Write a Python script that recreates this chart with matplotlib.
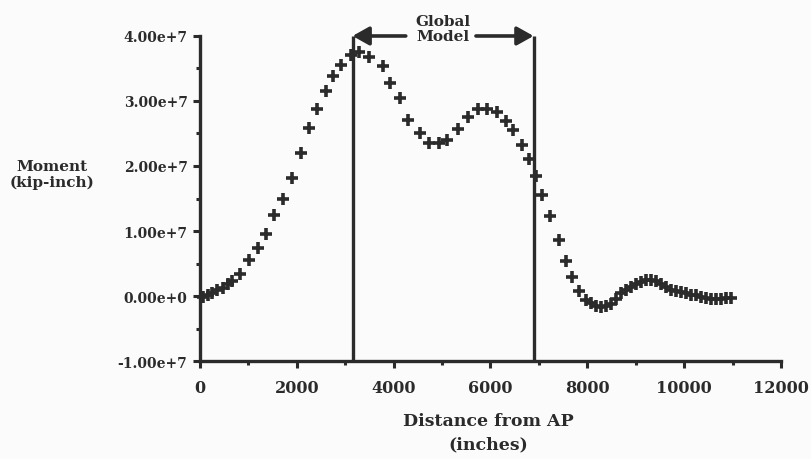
import matplotlib
matplotlib.use("Agg")
import matplotlib.pyplot as plt
from matplotlib.ticker import MultipleLocator, FuncFormatter
from matplotlib.patches import FancyArrowPatch

# Bending moment along the hull, distance measured from the aft perpendicular
distance_in = [70, 163, 257, 361, 466, 570, 664, 822, 1020, 1205, 1361, 1529,
               1707, 1902, 2086, 2248, 2415, 2595, 2740, 2915, 3126, 3292, 3490,
               3775, 3918, 4124, 4300, 4535, 4737, 4944, 5110, 5327, 5526, 5742,
               5938, 6126, 6314, 6455, 6650, 6793, 6939, 7065, 7221, 7410, 7552,
               7689, 7833, 7967, 8069, 8171, 8273, 8377, 8481, 8586, 8692, 8797,
               8901, 9006, 9110, 9214, 9317, 9420, 9521, 9623, 9725, 9827, 9930,
               10033, 10135, 10238, 10341, 10443, 10546, 10649, 10753, 10856, 10959]
moment_e7 = [-0.01, 0.02, 0.05, 0.09, 0.13, 0.18, 0.23, 0.34, 0.55, 0.74, 0.95, 1.24,
             1.49, 1.82, 2.20, 2.58, 2.88, 3.16, 3.39, 3.55, 3.70, 3.75, 3.68,
             3.54, 3.28, 3.04, 2.71, 2.50, 2.36, 2.36, 2.40, 2.57, 2.76, 2.87,
             2.87, 2.83, 2.69, 2.55, 2.33, 2.11, 1.84, 1.55, 1.23, 0.86, 0.54,
             0.29, 0.07, -0.06, -0.11, -0.15, -0.17, -0.16, -0.13, -0.05, 0.04, 0.10,
             0.14, 0.19, 0.22, 0.25, 0.25, 0.23, 0.18, 0.14, 0.10, 0.07, 0.06,
             0.04, 0.02, 0.01, -0.01, -0.03, -0.04, -0.04, -0.04, -0.03, -0.03]
moment = [m * 1e7 for m in moment_e7]

# Extent of the global model region
global_model_start = 3150
global_model_end = 6890

x_ticks = [0, 2000, 4000, 6000, 8000, 10000, 12000]
y_ticks = [-1e7, 0, 1e7, 2e7, 3e7, 4e7]

ink = "#2b2b2b"
paper = "#fbfbfb"
font = ["DejaVu Serif"]

fig = plt.figure(figsize=(8.11, 4.60), dpi=100, facecolor=paper)
ax = fig.add_axes([0.2466, 0.213, 0.7164, 0.7066], facecolor=paper)

ax.plot(distance_in, moment, linestyle="none", marker="+", markersize=8,
        markeredgewidth=2.6, color=ink, clip_on=False, zorder=3)

ax.set_xlim(0, 12000)
ax.set_ylim(-1e7, 4e7)
ax.set_xticks(x_ticks)
ax.set_yticks(y_ticks)
ax.xaxis.set_minor_locator(MultipleLocator(1000))
ax.yaxis.set_minor_locator(MultipleLocator(5e6))


def sci_label(v, pos):
    if v == 0:
        return "0.00e+0"
    exp = 7
    return f"{v / 10**exp:.2f}e+{exp}"


ax.yaxis.set_major_formatter(FuncFormatter(sci_label))

for side in ("top", "right"):
    ax.spines[side].set_visible(False)
for side in ("left", "bottom"):
    ax.spines[side].set_linewidth(2.4)
    ax.spines[side].set_color(ink)

ax.tick_params(axis="both", which="major", direction="out", length=5,
               width=2.2, color=ink)
ax.tick_params(axis="both", which="minor", direction="out", length=3,
               width=2.2, color=ink)
ax.tick_params(axis="y", which="major", pad=4)
ax.tick_params(axis="x", which="major", pad=8)

for lab in ax.get_yticklabels():
    lab.set_fontfamily(font)
    lab.set_fontweight("bold")
    lab.set_fontsize(10)
    lab.set_color(ink)
for lab in ax.get_xticklabels():
    lab.set_fontfamily(font)
    lab.set_fontweight("bold")
    lab.set_fontsize(11.5)
    lab.set_color(ink)

# Vertical bounds of the global model
for xb in (global_model_start, global_model_end):
    ax.plot([xb, xb], [-1e7, 4.0e7], color=ink, linewidth=2.4,
            solid_capstyle="butt", clip_on=False, zorder=2)

# Arrows pointing out to both bounds
label_x = (global_model_start + global_model_end) / 2
for tail, head in ((4250, global_model_start), (5700, global_model_end)):
    arr = FancyArrowPatch((tail, 4.0e7), (head, 4.0e7),
                          arrowstyle="-|>,head_length=0.5,head_width=0.28",
                          mutation_scale=20, color=ink, linewidth=2.6,
                          shrinkA=0, shrinkB=0, clip_on=False, zorder=4)
    ax.add_patch(arr)

ax.text(label_x, 4.12e7, "Global\nModel", ha="center", va="center",
        fontfamily=font, fontweight="bold", fontsize=11, color=ink,
        linespacing=1.1, clip_on=False)

fig.text(52 / 811, 1 - 175 / 460, "Moment\n(kip-inch)", ha="center", va="center",
         fontfamily=font, fontweight="bold", fontsize=11, color=ink,
         linespacing=1.15)
fig.text(488 / 811, 1 - 421 / 460, "Distance from AP", ha="center", va="center",
         fontfamily=font, fontweight="bold", fontsize=12.5, color=ink)
fig.text(488 / 811, 1 - 445 / 460, "(inches)", ha="center", va="center",
         fontfamily=font, fontweight="bold", fontsize=12.5, color=ink)

fig.savefig("out.png", dpi=100, facecolor=paper)
